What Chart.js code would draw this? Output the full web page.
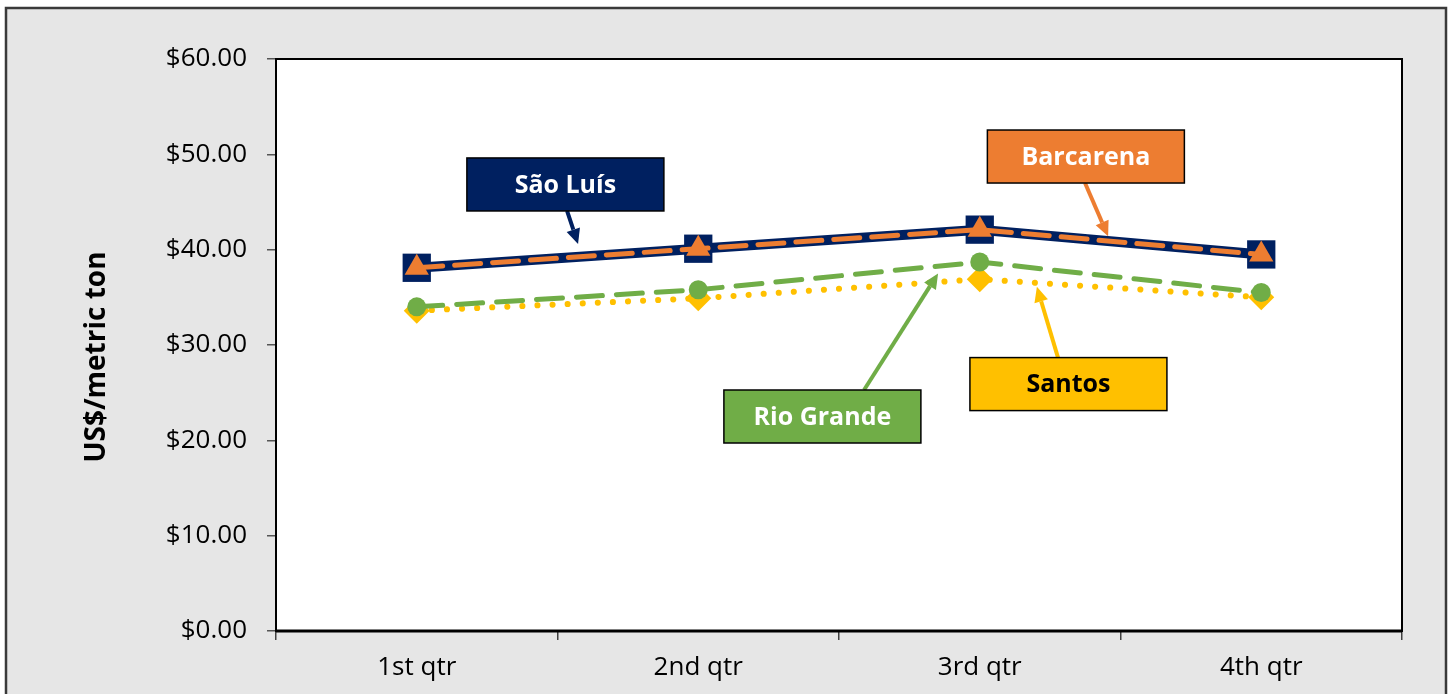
<!DOCTYPE html>
<html>
<head>
<meta charset="utf-8">
<script src="https://cdn.jsdelivr.net/npm/chart.js@4.4.1/dist/chart.umd.min.js"></script>
<style>
  html, body { margin: 0; padding: 0; background: #ffffff; }
  #wrap { width: 1453px; height: 694px; position: relative; }
</style>
</head>
<body>
<div id="wrap"><canvas id="c" width="1453" height="694"></canvas></div>
<script>
// Quarterly freight rates, US$ per metric ton
const quarters = ['1st qtr', '2nd qtr', '3rd qtr', '4th qtr'];
const saoLuis   = [38.1, 40.1, 42.1, 39.5];
const barcarena = [38.1, 40.1, 42.1, 39.5];
const rioGrande = [34.0, 35.8, 38.7, 35.5];
const santos    = [33.6, 34.9, 36.9, 35.0];
const yTicks = [0, 10, 20, 30, 40, 50, 60];

const FONT = "'Open Sans', 'DejaVu Sans', sans-serif";

// Callout boxes: centre, arrow tail x and arrow tip given in axis units (category index, US$)
const callouts = [
  { text: 'São Luís',   fill: '#002060', ink: '#ffffff', cx: 0.528, cy: 46.84, sx: 0.534, tx: 0.573, ty: 40.6 },
  { text: 'Barcarena',  fill: '#ED7D31', ink: '#ffffff', cx: 2.377, cy: 49.77, sx: 2.374, tx: 2.456, ty: 41.4 },
  { text: 'Rio Grande', fill: '#70AD47', ink: '#ffffff', cx: 1.441, cy: 22.5,  sx: 1.589, tx: 1.852, ty: 37.5 },
  { text: 'Santos',     fill: '#FFC000', ink: '#000000', cx: 2.315, cy: 25.9,  sx: 2.278, tx: 2.203, ty: 36.1 }
];

const framePlugin = {
  id: 'frame',
  beforeDraw(chart) {
    const { ctx, width, height, chartArea: a } = chart;
    ctx.save();
    ctx.fillStyle = '#ffffff';
    ctx.fillRect(0, 0, width, height);
    ctx.fillStyle = '#E6E6E6';
    ctx.fillRect(6, 8, width - 13, height - 8);
    ctx.strokeStyle = '#3a3a3a';
    ctx.lineWidth = 2.5;
    ctx.beginPath();
    ctx.moveTo(6, height + 2);
    ctx.lineTo(6, 8);
    ctx.lineTo(width - 7, 8);
    ctx.lineTo(width - 7, height + 2);
    ctx.stroke();
    ctx.fillStyle = '#ffffff';
    ctx.fillRect(a.left, a.top, a.right - a.left, a.bottom - a.top);
    ctx.restore();
  },
  afterDraw(chart) {
    const { ctx, chartArea: a } = chart;
    ctx.save();
    ctx.strokeStyle = '#000000';
    ctx.lineWidth = 2;
    ctx.strokeRect(a.left, a.top, a.right - a.left, a.bottom - a.top);
    ctx.lineWidth = 3;
    ctx.beginPath();
    ctx.moveTo(a.left, a.bottom);
    ctx.lineTo(a.right, a.bottom);
    ctx.stroke();
    // y-axis title
    ctx.translate(97, (a.top + a.bottom) / 2 + 12);
    ctx.rotate(-Math.PI / 2);
    ctx.fillStyle = '#000000';
    ctx.font = "bold 28px " + FONT;
    ctx.textAlign = 'center';
    ctx.textBaseline = 'middle';
    ctx.fillText('US$/metric ton', 0, 0);
    ctx.restore();
  }
};

function arrow(ctx, x0, y0, x1, y1, color) {
  const ang = Math.atan2(y1 - y0, x1 - x0);
  const head = 15, half = 7;
  const bx = x1 - Math.cos(ang) * head, by = y1 - Math.sin(ang) * head;
  ctx.strokeStyle = color;
  ctx.fillStyle = color;
  ctx.lineWidth = 4;
  ctx.beginPath();
  ctx.moveTo(x0, y0);
  ctx.lineTo(bx, by);
  ctx.stroke();
  ctx.beginPath();
  ctx.moveTo(x1, y1);
  ctx.lineTo(bx + Math.sin(ang) * half, by - Math.cos(ang) * half);
  ctx.lineTo(bx - Math.sin(ang) * half, by + Math.cos(ang) * half);
  ctx.closePath();
  ctx.fill();
}

const calloutPlugin = {
  id: 'callouts',
  afterDatasetsDraw(chart) {
    const { ctx, scales: { x, y } } = chart;
    const bw = 197, bh = 53;
    ctx.save();
    callouts.forEach(c => {
      const cx = x.getPixelForValue(c.cx), cy = y.getPixelForValue(c.cy);
      const tx = x.getPixelForValue(c.tx), ty = y.getPixelForValue(c.ty);
      const left = cx - bw / 2, top = cy - bh / 2;
      // tail leaves the box edge that faces the tip
      const tailX = x.getPixelForValue(c.sx);
      const tailY = ty < cy ? top : top + bh;
      arrow(ctx, tailX, tailY, tx, ty, c.fill);
      ctx.fillStyle = c.fill;
      ctx.fillRect(left, top, bw, bh);
      ctx.strokeStyle = '#000000';
      ctx.lineWidth = 1.5;
      ctx.strokeRect(left, top, bw, bh);
      ctx.fillStyle = c.ink;
      ctx.font = "bold 25px " + FONT;
      ctx.textAlign = 'center';
      ctx.textBaseline = 'middle';
      ctx.fillText(c.text, cx, cy + 1);
    });
    ctx.restore();
  }
};

new Chart(document.getElementById('c'), {
  type: 'line',
  data: {
    labels: quarters,
    datasets: [
      {
        label: 'Barcarena', data: barcarena,
        borderColor: '#ED7D31', backgroundColor: '#ED7D31',
        borderWidth: 5, borderDash: [26, 12], borderCapStyle: 'round',
        pointStyle: 'triangle', pointRadius: 14, pointBorderWidth: 0
      },
      {
        label: 'São Luís', data: saoLuis,
        borderColor: '#002060', backgroundColor: '#002060',
        borderWidth: 10,
        pointStyle: 'rect', pointRadius: 20, pointBorderWidth: 0
      },
      {
        label: 'Rio Grande', data: rioGrande,
        borderColor: '#70AD47', backgroundColor: '#70AD47',
        borderWidth: 5, borderDash: [26, 14], borderCapStyle: 'round',
        pointStyle: 'circle', pointRadius: 9.5, pointBorderWidth: 0
      },
      {
        label: 'Santos', data: santos,
        borderColor: '#FFC000', backgroundColor: '#FFC000',
        borderWidth: 6, borderDash: [0.1, 15], borderCapStyle: 'round',
        pointStyle: 'rectRot', pointRadius: 13, pointBorderWidth: 0
      }
    ]
  },
  options: {
    responsive: false,
    animation: false,
    events: [],
    layout: { padding: { left: 0, top: 59, right: 51, bottom: 0 } },
    plugins: { legend: { display: false }, tooltip: { enabled: false } },
    elements: { line: { tension: 0, fill: false } },
    scales: {
      x: {
        offset: true,
        grid: { offset: true, drawOnChartArea: false, drawTicks: true, tickLength: 9, color: '#404040', lineWidth: 1.5 },
        border: { display: false },
        ticks: { color: '#000000', font: { family: FONT, size: 26 }, padding: 12, maxRotation: 0 },
        afterFit(s) { s.height = 63; }
      },
      y: {
        min: 0, max: 60,
        afterBuildTicks(s) { s.ticks = yTicks.map(v => ({ value: v })); },
        grid: { drawOnChartArea: false, drawTicks: true, tickLength: 9, color: '#555555', lineWidth: 1.5 },
        border: { display: false },
        ticks: {
          color: '#000000', font: { family: FONT, size: 26 }, padding: 20,
          callback: v => '$' + Number(v).toFixed(2)
        },
        afterFit(s) { s.width = 276; }
      }
    }
  },
  plugins: [framePlugin, calloutPlugin]
});
</script>
</body>
</html>
